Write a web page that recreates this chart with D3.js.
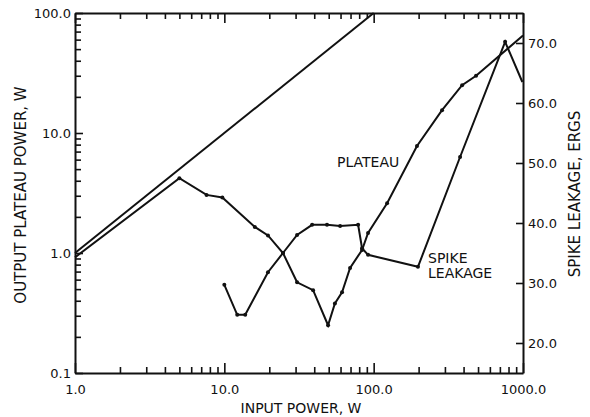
<!DOCTYPE html>
<html>
<head>
<meta charset="utf-8">
<title>Plateau and spike leakage</title>
<script src="https://d3js.org/d3.v7.min.js"></script>
<style>
  body { margin: 0; background: #fff; }
  text { font-family: "DejaVu Sans", sans-serif; fill: #111; }
  .axis path, .axis line { stroke: #111; }
  .axis path { stroke-width: 2; }
  .axis line { stroke-width: 1.6; }
  .axis text { font-size: 13px; }
</style>
</head>
<body>
<script>
// values
var refX = [1, 100];
var refY = [1, 100];

var plateauX = [1.0, 5.0, 7.6, 9.7, 16, 19.6, 24.7, 30.7, 39.3, 49.5, 55, 61.4, 69.5, 83.6, 91.7, 123, 195, 287, 391, 485, 1000];
var plateauY = [0.92, 4.2, 3.05, 2.9, 1.65, 1.4, 1.0, 0.57, 0.49, 0.25, 0.38, 0.47, 0.75, 1.06, 1.47, 2.6, 7.8, 15.5, 25, 30, 65];

var spikeX = [10, 12.2, 13.8, 19.6, 24.7, 30.7, 38.7, 48.7, 59.6, 78.7, 83.6, 91.7, 198, 379, 759, 990];
var spikeY = [29.7, 24.7, 24.7, 31.8, 35, 38, 39.7, 39.7, 39.5, 39.7, 35.8, 34.7, 32.7, 51, 70.2, 63.5];

var xLabels = ["1.0", "10.0", "100.0", "1000.0"];
var yLabels = ["0.1", "1.0", "10.0", "100.0"];
var rightTicks = [20, 30, 40, 50, 60, 70];

var W = 590, H = 417;
var margin = { top: 13, right: 67, bottom: 44, left: 75 };

var svg = d3.select("body")
    .append("svg")
    .attr("width", W)
    .attr("height", H);

var x = d3.scaleLog().domain([1, 1000]).range([margin.left, W - margin.right]);
var yL = d3.scaleLog().domain([0.1, 100]).range([H - margin.bottom, margin.top]);
var yR = d3.scaleLinear().domain([15, 75]).range([H - margin.bottom, margin.top]);

function isDecade(v) {
    var l = Math.log10(v);
    return Math.abs(l - Math.round(l)) < 1e-6;
}

function xFmt(v) {
    return isDecade(v) ? xLabels[Math.round(Math.log10(v))] : "";
}
function yFmt(v) {
    return isDecade(v) ? yLabels[Math.round(Math.log10(v)) + 1] : "";
}

// make decade ticks a little longer
function longMajors(g, attr, len) {
    g.selectAll(".tick").each(function(d) {
        if (isDecade(d)) d3.select(this).select("line").attr(attr, len);
    });
}

// bottom
var gb = svg.append("g")
    .attr("class", "axis")
    .attr("transform", "translate(0," + (H - margin.bottom) + ")")
    .call(d3.axisBottom(x).tickValues(x.ticks()).tickFormat(xFmt).tickSize(-6).tickSizeOuter(0).tickPadding(12));
longMajors(gb, "y2", -10);

// top
var gt = svg.append("g")
    .attr("class", "axis")
    .attr("transform", "translate(0," + margin.top + ")")
    .call(d3.axisTop(x).tickValues(x.ticks()).tickFormat("").tickSize(-6).tickSizeOuter(0));
longMajors(gt, "y2", 10);

// left
var gl = svg.append("g")
    .attr("class", "axis")
    .attr("transform", "translate(" + margin.left + ",0)")
    .call(d3.axisLeft(yL).tickValues(yL.ticks()).tickFormat(yFmt).tickSize(-6).tickSizeOuter(0).tickPadding(4));
longMajors(gl, "x2", 8);

// right
svg.append("g")
    .attr("class", "axis")
    .attr("transform", "translate(" + (W - margin.right) + ",0)")
    .call(d3.axisRight(yR).tickValues(rightTicks).tickFormat(d3.format(".1f")).tickSize(-7).tickSizeOuter(0).tickPadding(5));

// reference line
var refLine = d3.line()
    .x(function(d, i) { return x(refX[i]); })
    .y(function(d, i) { return yL(refY[i]); });
svg.append("path")
    .attr("d", refLine(refX))
    .attr("fill", "none")
    .attr("stroke", "#111")
    .attr("stroke-width", 2);

// plateau (left axis)
var pLine = d3.line()
    .x(function(d, i) { return x(plateauX[i]); })
    .y(function(d, i) { return yL(plateauY[i]); });
svg.append("path")
    .attr("d", pLine(plateauX))
    .attr("fill", "none")
    .attr("stroke", "#111")
    .attr("stroke-width", 2);
svg.selectAll(".pdot")
    .data(plateauX.slice(1, -1))
    .enter()
    .append("circle")
    .attr("cx", function(d) { return x(d); })
    .attr("cy", function(d, i) { return yL(plateauY[i + 1]); })
    .attr("r", 2)
    .attr("fill", "#111");

// spike leakage (right axis)
var sLine = d3.line()
    .x(function(d, i) { return x(spikeX[i]); })
    .y(function(d, i) { return yR(spikeY[i]); });
svg.append("path")
    .attr("d", sLine(spikeX))
    .attr("fill", "none")
    .attr("stroke", "#111")
    .attr("stroke-width", 2);
svg.selectAll(".sdot")
    .data(spikeX.slice(0, -1))
    .enter()
    .append("circle")
    .attr("cx", function(d) { return x(d); })
    .attr("cy", function(d, i) { return yR(spikeY[i]); })
    .attr("r", 2)
    .attr("fill", "#111");

// curve labels
svg.append("text").attr("x", 337).attr("y", 167).style("font-size", "14px").text("PLATEAU");
svg.append("text").attr("x", 428).attr("y", 263).style("font-size", "14px").text("SPIKE");
svg.append("text").attr("x", 428).attr("y", 278).style("font-size", "14px").text("LEAKAGE");

// axis titles
svg.append("text")
    .attr("x", 301).attr("y", 413)
    .attr("text-anchor", "middle")
    .style("font-size", "14px")
    .text("INPUT POWER, W");
svg.append("text")
    .attr("transform", "translate(26,195)rotate(-90)")
    .attr("text-anchor", "middle")
    .style("font-size", "15px")
    .text("OUTPUT PLATEAU POWER, W");
svg.append("text")
    .attr("transform", "translate(580,194)rotate(-90)")
    .attr("text-anchor", "middle")
    .style("font-size", "15px")
    .text("SPIKE LEAKAGE, ERGS");
</script>
</body>
</html>
